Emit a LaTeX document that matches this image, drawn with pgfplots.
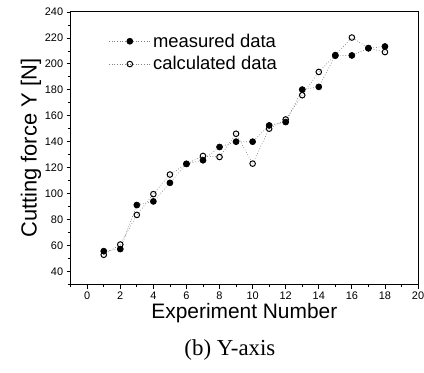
\documentclass[border=0pt]{standalone}
\usepackage{fontspec}
\setmainfont{Liberation Serif}
\setsansfont{Liberation Sans}
\usepackage{pgfplots}
\pgfplotsset{compat=1.18}

\begin{document}
\begin{tikzpicture}[x=1pt,y=1pt]
\useasboundingbox (-71,-88) rectangle (355,286);
\begin{axis}[
  scale only axis,
  width=349pt, height=274pt,
  xmin=-1, xmax=20, ymin=30, ymax=240,
  xtick={0,2,...,20}, minor xtick={-1,1,...,19},
  ytick={40,60,...,240}, minor ytick={30,50,...,230},
  tick align=outside,
  xtick pos=bottom, ytick pos=left,
  major tick length=4pt, minor tick length=2.5pt,
  tick style={black, line width=0.8pt},
  axis line style={line width=0.9pt},
  /pgf/number format/assume math mode=true,
  tick label style={font=\sffamily\fontsize{11}{12}\selectfont},
  xlabel={Experiment Number},
  ylabel={Cutting force Y [N]},
  xlabel style={font=\sffamily\fontsize{21}{24}\selectfont, yshift=3pt},
  ylabel style={font=\sffamily\fontsize{22}{24}\selectfont, yshift=-3pt},
  legend style={at={(0.10,0.935)}, anchor=north west, draw=none, fill=none,
    font=\sffamily\fontsize{18.5}{21}\selectfont, row sep=4pt},
  legend cell align=left,
  legend image code/.code={
    \draw[mark repeat=2, mark phase=2, #1]
      plot coordinates {(0pt,0pt) (21pt,0pt) (42pt,0pt)};},
]
\addplot[gray, dotted, line width=0.7pt, mark=*,
  mark options={solid, fill=black, draw=black, scale=1.5}]
  coordinates {
  (1,55.8) (2,57.4) (3,91.3) (4,94.1) (5,108.4) (6,123) (7,125.8) (8,136)
  (9,140.1) (10,140.1) (11,152.6) (12,155.2) (13,180.2) (14,182.3)
  (15,206.3) (16,206.5) (17,212) (18,213.4)};
\addlegendentry{measured data}
\addplot[gray, dotted, line width=0.7pt, mark=o,
  mark options={solid, draw=black, fill=white, line width=1pt, scale=1.4}]
  coordinates {
  (1,53) (2,60.9) (3,83.7) (4,99.7) (5,114.8) (6,123) (7,129.1) (8,128.3)
  (9,146.2) (10,123.2) (11,150.1) (12,157.2) (13,175.9) (14,193.8)
  (15,206.8) (16,220.3) (17,212.2) (18,209.1)};
\addlegendentry{calculated data}
\end{axis}
\node[font=\fontsize{23}{26}\selectfont] at (160,-66) {(b) Y-axis};
\end{tikzpicture}
\end{document}
